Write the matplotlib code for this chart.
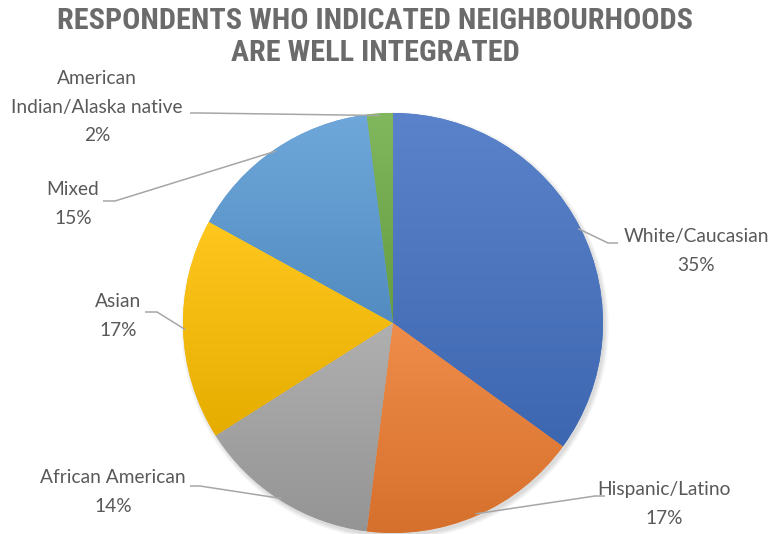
import numpy as np, matplotlib; matplotlib.use('Agg'); import matplotlib.pyplot as plt
from matplotlib import font_manager as fm
from matplotlib.colors import to_rgb

# --- data ---
labels = ['White/Caucasian', 'Hispanic/Latino', 'African American', 'Asian', 'Mixed', 'American\nIndian/Alaska native']
shares = [35, 17, 14, 17, 15, 2]
colors = ['#4472C4', '#ED7D31', '#A5A5A5', '#FFC000', '#5B9BD5', '#70AD47']
title = 'RESPONDENTS WHO INDICATED NEIGHBOURHOODS\nARE WELL INTEGRATED'

names = {f.name for f in fm.fontManager.ttflist}
TFONT = next((n for n in ['Liberation Sans Narrow', 'Roboto Condensed', 'Open Sans Condensed'] if n in names), 'DejaVu Sans')
LFONT = 'Lato' if 'Lato' in names else 'DejaVu Sans'
TXT = '#595959'; LINE = '#a6a6a6'

W, H = 771, 534
fig = plt.figure(figsize=(W/100, H/100), dpi=100)
ax = fig.add_axes([0, 0, 1, 1]); ax.set_xlim(0, W); ax.set_ylim(0, H); ax.axis('off')
cx, cy, R = 393, H-323, 210

# soft shadow
for k in range(6):
    ax.add_patch(plt.Circle((cx+2, cy-3), R+k*0.8, color='k', alpha=0.025, lw=0, zorder=1))

wedges, _ = ax.pie(shares, colors=colors, startangle=90, counterclock=False,
                   center=(cx, cy), radius=R, wedgeprops=dict(lw=0), frame=True)
ax.set_xlim(0, W); ax.set_ylim(0, H); ax.set_aspect('equal'); ax.axis('off')

def shade(c, f):
    c = np.array(to_rgb(c))
    return c + (1-c)*f if f > 0 else c*(1+f)

inv = ax.transData.inverted()
for w, c in zip(wedges, colors):
    w.set_zorder(2)
    bb = w.get_window_extent()
    (x0, y0), (x1, y1) = inv.transform([[bb.x0, bb.y0], [bb.x1, bb.y1]])
    top, bot = shade(c, 0.12), shade(c, -0.10)
    t = np.linspace(0, 1, 256)[:, None]
    img = (top[None, :]*(1-t) + bot[None, :]*t)[:, None, :]
    im = ax.imshow(img, extent=(x0, x1, y0, y1), origin='upper', aspect='auto', zorder=3, interpolation='bilinear')
    im.set_clip_path(w)
ax.set_xlim(0, W); ax.set_ylim(0, H)

# labels: text centre and leader (text side -> elbow -> wedge edge), pixel coords from top
lab_pos = [(696, 251), (664, 504), (113, 492), (118, 316), (73, 204), (97, 107)]
leaders = [[(618, 243), (608, 243)], [(605, 496), (595, 496)], [(190, 486), (200, 486)],
           [(145, 312), (157, 312)], [(103, 201), (115, 201)], [(190, 113), (200, 113)]]
cum = np.cumsum([0]+shares)
for i, (lab, s) in enumerate(zip(labels, shares)):
    x, y = lab_pos[i]
    ax.text(x, H-y, f'{lab}\n{s}%', ha='center', va='center', fontsize=13.8, color=TXT,
            family=LFONT, linespacing=1.8, zorder=5)
    mid = np.deg2rad(90 - (cum[i]+s/2)/100*360)
    ex, ey = cx + R*0.99*np.cos(mid), cy + R*0.99*np.sin(mid)
    pts = [(px, H-py) for px, py in leaders[i]] + [(ex, ey)]
    ax.plot(*zip(*pts), color=LINE, lw=1.1, zorder=4, solid_capstyle='butt')

tt = ax.text(375, H-37, title, ha='center', va='center', fontsize=22, fontweight='bold', color='#6b6b6b',
             family=TFONT, stretch='condensed', linespacing=1.2)
r = fig.canvas.get_renderer()
wpx = tt.get_window_extent(r).width
if wpx > 632:
    tt.set_fontsize(22*632/wpx)
fig.savefig('out.png', dpi=100)
